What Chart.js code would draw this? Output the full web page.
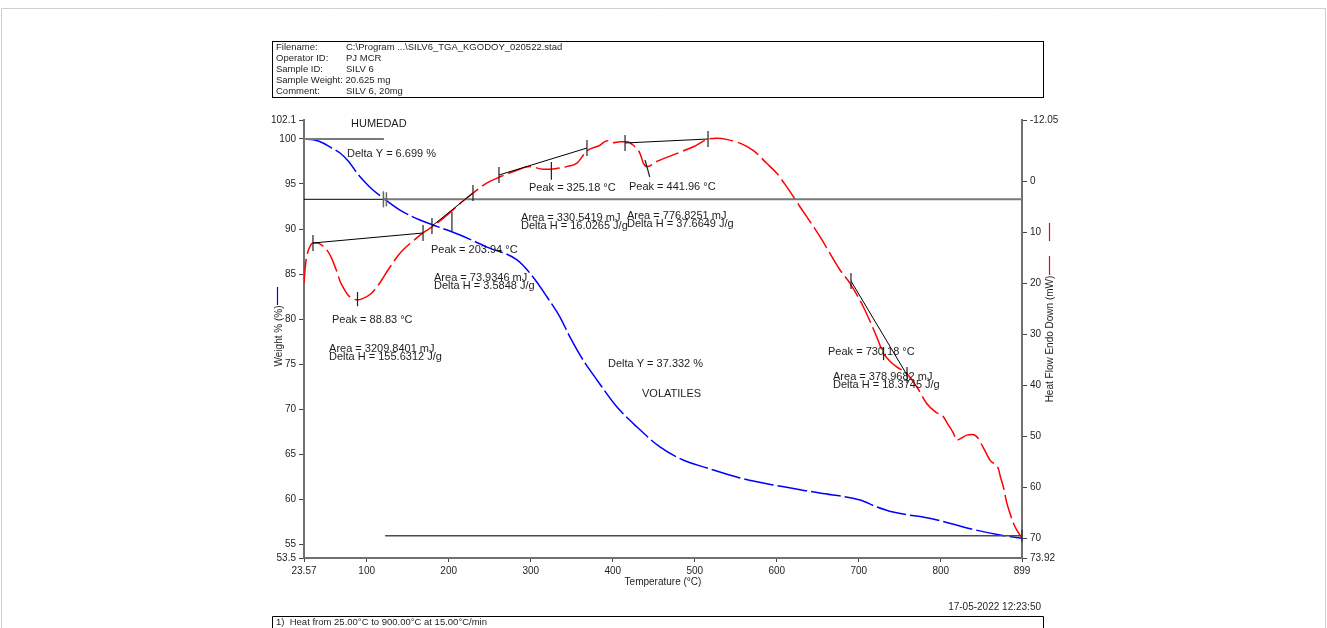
<!DOCTYPE html>
<html>
<head>
<meta charset="utf-8">
<title>SILV 6 TGA</title>
<script src="https://cdn.jsdelivr.net/npm/chart.js@4.4.1/dist/chart.umd.min.js"></script>
<style>
  html, body { margin: 0; padding: 0; background: #ffffff; }
  canvas { display: block; }
</style>
</head>
<body>
<canvas id="tga" width="1327" height="628"></canvas>
<script>
// ---- TGA weight curve (temperature °C, weight %) ----
const weightTemp = [23.57, 35, 46.7, 57, 67.5, 78, 88.2, 98, 107.7, 119.9, 140.6, 165, 180.9, 213.8,
  246.7, 283.3, 302.8, 319.9, 335.7, 347.9, 363.8, 380.8, 405.2, 429.6, 457.6, 485.7, 515, 555.2,
  595.4, 652.7, 701.5, 722.2, 741.7, 790.5, 832, 872.2, 899];
const weightPct = [100.0, 99.9, 99.55, 99.0, 98.44, 97.5, 96.22, 95.2, 94.33, 93.45, 92.11, 91.0, 90.45, 89.34,
  88.0, 86.57, 84.68, 82.46, 80.24, 78.0, 75.47, 73.25, 70.25, 68.03, 65.82, 64.37, 63.49, 62.38,
  61.6, 60.71, 59.93, 59.16, 58.6, 57.83, 56.83, 56.05, 55.7];

// ---- DSC heat flow curve (temperature °C, heat flow mW, endo down) ----
const heatTemp = [23.57, 25.5, 28, 31, 34.5, 40, 46, 51.6, 57, 63.8, 67.5, 72, 77.2, 83, 88.83, 95, 104, 110,
  116.2, 126, 140.6, 155, 168.7, 180, 185.7, 195, 205.2, 217, 229.6, 246.7, 262.6, 283.3, 299, 315,
  330, 344, 356.4, 368.6, 384.5, 393, 400.3, 409, 417, 425.1, 433.2, 437.3, 441.96, 453.6, 473.8,
  498.2, 516.5, 526.7, 540, 555.2, 572, 587.7, 600, 612, 628.3, 652.7, 677.1, 689.3, 705.5, 721.8,
  729.9, 738, 746.2, 758.4, 770.6, 782.8, 793, 803.1, 808, 815.3, 819.4, 825, 831.6, 838, 843.8,
  852, 860, 866, 870.2, 873, 876.2, 880, 884.4, 888, 892.5, 899];
const heatFlow = [19.9, 16.2, 14.0, 12.7, 12.1, 12.1, 12.6, 13.5, 15.0, 17.8, 19.6, 21.0, 22.3, 23.0, 23.25, 23.0, 22.2, 21.2,
  19.9, 17.4, 14.1, 11.9, 10.1, 8.9, 8.2, 7.0, 5.6, 3.9, 2.3, 0.3, -0.9, -2.2, -2.9, -2.4,
  -2.5, -2.9, -3.6, -6.0, -7.1, -8.0, -7.6, -7.8, -7.8, -7.1, -5.5, -3.6, -2.9, -3.9, -5.2,
  -6.8, -8.3, -8.45, -8.2, -7.5, -6.0, -3.55, -1.6, 1.04, 4.97, 10.85, 17.39, 20.0, 24.6, 30.5,
  33.7, 35.3, 36.4, 37.7, 40.3, 43.6, 45.2, 46.2, 47.5, 49.4, 50.8, 50.4, 49.8, 49.7, 50.1,
  52.3, 54.7, 55.6, 56.4, 58.2, 59.9, 62.8, 65.2, 66.9, 68.4, 70.0];

// ---- axis tick values ----
const tempTicks = [23.57, 100, 200, 300, 400, 500, 600, 700, 800, 899];
const weightTicks = [53.5, 55, 60, 65, 70, 75, 80, 85, 90, 95, 100, 102.1];
const heatTicks = [-12.05, 0, 10, 20, 30, 40, 50, 60, 70, 73.92];

// ---- step analysis (weight %) ----
const stepStart = 100;
const stepDeltas = [6.699, 37.332];
const stepSplitTemp = 121;

// ---- peak analysis: baselines [T1, H1, T2, H2] and peak temperatures ----
const peakBaselines = [
  [34.5, 12.09, 168.7, 10.13],
  [179.6, 8.76, 229.6, 2.28],
  [261.3, -1.25, 368.6, -6.55],
  [415, -7.54, 516.2, -8.32],
  [690.5, 19.55, 758.8, 38.0]
];
const peakTemps = [88.83, 203.94, 325.18, 441.96, 730.18];
const peakMarkerHeat = [[21.7, 24.5], [6.0, 9.9], [-3.8, -0.3], [-4.2, -0.86], [32.5, 35.1]];
const peakAreas = ['3209.8401', '73.9346', '330.5419', '776.8251', '378.9682'];
const peakDeltaH = ['155.6312', '3.5848', '16.0265', '37.6649', '18.3745'];
// label anchors: [T, H] for "Peak" line and for "Area"/"Delta H" block
const peakLabelAt = [[57.7, 27.2], [178.4, 13.47], [297.9, 1.3], [419.8, 1.1], [662.5, 33.5]];
const areaLabelAt = [[54.1, 32.9], [182.1, 18.96], [288.2, 7.2], [417.4, 6.8], [668.6, 38.39]];

// ---- header / footer text ----
const headerRows = [
  ['Filename:', 'C:\\Program ...\\SILV6_TGA_KGODOY_020522.stad'],
  ['Operator ID:', 'PJ MCR'],
  ['Sample ID:', 'SILV 6'],
  ['Sample Weight: 20.625 mg', ''],
  ['Comment:', 'SILV 6, 20mg']
];
const stampText = '17-05-2022 12:23:50';
const methodText = '1)  Heat from 25.00\u00B0C to 900.00\u00B0C at 15.00\u00B0C/min';

const FONT = "'Liberation Sans', Arial, Helvetica, sans-serif";
const TEXT = '#1e1e1e';

const weightPoints = weightTemp.map((t, i) => ({ x: t, y: weightPct[i] }));
const heatPoints = heatTemp.map((t, i) => ({ x: t, y: heatFlow[i] }));

function seg(ctx, x1, y1, x2, y2, color, width) {
  ctx.beginPath();
  ctx.strokeStyle = color;
  ctx.lineWidth = width;
  ctx.moveTo(x1, y1);
  ctx.lineTo(x2, y2);
  ctx.stroke();
}

const analysisPlugin = {
  id: 'analysis',
  afterDatasetsDraw(chart) {
    const ctx = chart.ctx;
    const sx = chart.scales.x, sw = chart.scales.y, sh = chart.scales.y1;
    const X = v => sx.getPixelForValue(v);
    const W = v => sw.getPixelForValue(v);
    const H = v => sh.getPixelForValue(v);
    const area = chart.chartArea;
    ctx.save();
    ctx.setLineDash([]);

    // weight step lines
    const w1 = stepStart - stepDeltas[0];
    const w2 = w1 - stepDeltas[1];
    seg(ctx, area.left, W(stepStart), X(stepSplitTemp), W(stepStart), '#7a7a7a', 2);
    seg(ctx, area.left, W(w1), X(stepSplitTemp), W(w1), '#000000', 1);
    seg(ctx, X(stepSplitTemp), W(w1), area.right, W(w1), '#7a7a7a', 2);
    seg(ctx, X(stepSplitTemp + 1.5), W(w2), area.right, W(w2), '#4a4a4a', 1.5);
    seg(ctx, X(stepSplitTemp) - 0.5, W(w1) - 8, X(stepSplitTemp) - 0.5, W(w1) + 8, '#666', 1.5);
    seg(ctx, X(stepSplitTemp) + 2.5, W(w1) - 7, X(stepSplitTemp) + 2.5, W(w1) + 7, '#666', 1.5);
    seg(ctx, area.right, W(w2) - 6, area.right, W(w2) + 6, '#333', 1.5);

    // peak baselines with end ticks and peak markers
    peakBaselines.forEach((b, i) => {
      const x1 = X(b[0]), y1 = H(b[1]), x2 = X(b[2]), y2 = H(b[3]);
      seg(ctx, x1, y1, x2, y2, '#000000', 1);
      seg(ctx, x1, y1 - 8, x1, y1 + 8, '#222', 1.2);
      seg(ctx, x2, y2 - 8, x2, y2 + 8, '#222', 1.2);
      const m = peakMarkerHeat[i];
      if (i === 3) {
        seg(ctx, X(peakTemps[i] - 2.6), H(m[0]), X(peakTemps[i] + 3.2), H(m[1]), '#222', 1.2);
      } else {
        seg(ctx, X(peakTemps[i]), H(m[0]), X(peakTemps[i]), H(m[1]), '#222', 1.2);
      }
    });

    // labels
    ctx.fillStyle = TEXT;
    ctx.font = '11px ' + FONT;
    ctx.textAlign = 'left';
    ctx.textBaseline = 'middle';
    ctx.fillText('HUMEDAD', X(80.9), W(101.66));
    ctx.fillText('Delta Y = ' + stepDeltas[0].toFixed(3) + ' %', X(76.0), W(98.33));
    ctx.fillText('Delta Y = ' + stepDeltas[1].toFixed(3) + ' %', X(394.2), W(75.03));
    ctx.fillText('VOLATILES', X(435.7), W(71.7));
    peakTemps.forEach((p, i) => {
      ctx.fillText('Peak = ' + p.toFixed(2) + ' \u00B0C', X(peakLabelAt[i][0]), H(peakLabelAt[i][1]));
      const ax = X(areaLabelAt[i][0]), ay = H(areaLabelAt[i][1]);
      ctx.fillText('Area = ' + peakAreas[i] + ' mJ', ax, ay);
      ctx.fillText('Delta H = ' + peakDeltaH[i] + ' J/g', ax, ay + 8);
    });
    ctx.restore();
  },
  afterDraw(chart) {
    const ctx = chart.ctx;
    const area = chart.chartArea;
    const midY = (area.top + area.bottom) / 2;
    ctx.save();
    ctx.setLineDash([]);

    // page frame
    ctx.strokeStyle = '#cfcfcf';
    ctx.lineWidth = 1;
    ctx.beginPath();
    ctx.moveTo(1.5, 628);
    ctx.lineTo(1.5, 8.5);
    ctx.lineTo(1325.5, 8.5);
    ctx.lineTo(1325.5, 628);
    ctx.stroke();

    // header box
    ctx.strokeStyle = '#000';
    ctx.lineWidth = 1;
    ctx.strokeRect(272.5, 41.5, 771, 56);
    ctx.fillStyle = TEXT;
    ctx.font = '9.5px ' + FONT;
    ctx.textAlign = 'left';
    ctx.textBaseline = 'middle';
    headerRows.forEach((r, i) => {
      const y = 47 + i * 11;
      ctx.fillText(r[0], 276, y);
      if (r[1]) ctx.fillText(r[1], 346, y);
    });

    // axis titles
    ctx.font = '10px ' + FONT;
    ctx.textAlign = 'center';
    ctx.fillText('Temperature (\u00B0C)', (area.left + area.right) / 2, 582);

    ctx.save();
    ctx.translate(279, midY - 3);
    ctx.rotate(-Math.PI / 2);
    ctx.fillText('Weight % (%)', 0, 0);
    ctx.restore();
    seg(ctx, 277.5, 287, 277.5, 305, '#0000ff', 1.2);

    ctx.save();
    ctx.translate(1050, midY);
    ctx.rotate(-Math.PI / 2);
    ctx.fillText('Heat Flow Endo Down (mW)', 0, 0);
    ctx.restore();
    seg(ctx, 1049.5, 223, 1049.5, 241, '#ff0000', 1.2);
    seg(ctx, 1049.5, 256, 1049.5, 275, '#ff0000', 1.2);

    // footer
    ctx.textAlign = 'right';
    ctx.fillText(stampText, 1041, 607);
    ctx.strokeStyle = '#000';
    ctx.lineWidth = 1;
    ctx.beginPath();
    ctx.moveTo(272.5, 628);
    ctx.lineTo(272.5, 616.5);
    ctx.lineTo(1043.5, 616.5);
    ctx.lineTo(1043.5, 628);
    ctx.stroke();
    ctx.textAlign = 'left';
    ctx.font = '9.5px ' + FONT;
    ctx.fillText(methodText, 276, 622);
    ctx.restore();
  }
};

function fixedTicks(values) {
  return scale => { scale.ticks = values.map(v => ({ value: v })); };
}
function noOverhang(size, horizontal) {
  return scale => {
    if (horizontal) { scale.height = size; } else { scale.width = size; }
    scale.paddingLeft = 0; scale.paddingRight = 0;
    scale.paddingTop = 0; scale.paddingBottom = 0;
  };
}
const tickFont = { size: 10, family: FONT };

new Chart(document.getElementById('tga'), {
  type: 'line',
  data: {
    datasets: [
      {
        label: 'Weight %',
        data: weightPoints,
        yAxisID: 'y',
        borderColor: '#0000ff',
        borderWidth: 1.5,
        borderDash: [30, 4],
        pointRadius: 0,
        cubicInterpolationMode: 'monotone',
        fill: false
      },
      {
        label: 'Heat Flow',
        data: heatPoints,
        yAxisID: 'y1',
        borderColor: '#ff0000',
        borderWidth: 1.5,
        borderDash: [24, 5],
        pointRadius: 0,
        cubicInterpolationMode: 'monotone',
        fill: false
      }
    ]
  },
  options: {
    responsive: false,
    animation: false,
    events: [],
    layout: { padding: { left: 254, right: 255, top: 120, bottom: 30 } },
    plugins: { legend: { display: false }, tooltip: { enabled: false }, title: { display: false } },
    scales: {
      x: {
        type: 'linear',
        min: 23.57,
        max: 899,
        afterBuildTicks: fixedTicks(tempTicks),
        afterFit: noOverhang(40, true),
        ticks: { callback: v => String(v), color: TEXT, font: tickFont, padding: 3, maxRotation: 0, autoSkip: false },
        grid: { drawOnChartArea: false, tickLength: 4, color: '#444' },
        border: { color: '#707070', width: 2 }
      },
      y: {
        type: 'linear',
        position: 'left',
        min: 53.5,
        max: 102.1,
        afterBuildTicks: fixedTicks(weightTicks),
        afterFit: noOverhang(50, false),
        ticks: { callback: v => String(v), color: TEXT, font: tickFont, padding: 3, autoSkip: false },
        grid: { drawOnChartArea: false, tickLength: 5, color: '#444' },
        border: { color: '#707070', width: 2 }
      },
      y1: {
        type: 'linear',
        position: 'right',
        reverse: true,
        min: -12.05,
        max: 73.92,
        afterBuildTicks: fixedTicks(heatTicks),
        afterFit: noOverhang(50, false),
        ticks: { callback: v => String(v), color: TEXT, font: tickFont, padding: 3, autoSkip: false },
        grid: { drawOnChartArea: false, tickLength: 5, color: '#444' },
        border: { color: '#707070', width: 2 }
      }
    }
  },
  plugins: [analysisPlugin]
});
</script>
</body>
</html>
